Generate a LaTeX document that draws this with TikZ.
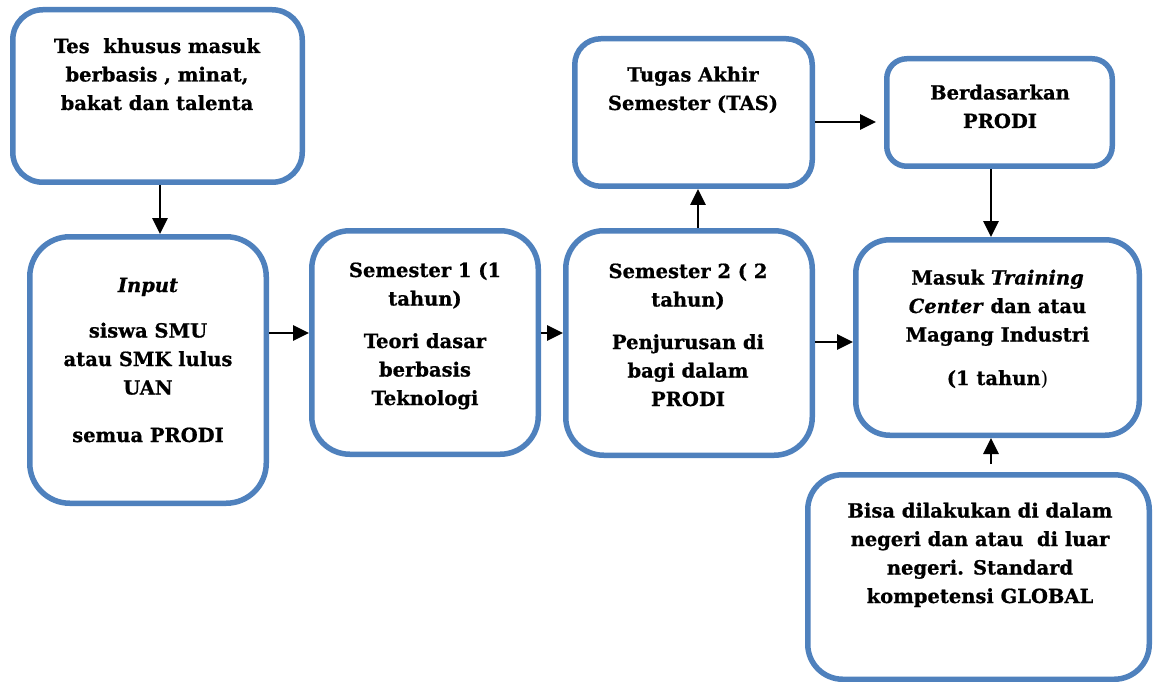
\documentclass[tikz,border=0pt]{standalone}
\usepackage{fontspec}
\setmainfont{DejaVu Serif}[BoldFeatures={FakeBold=0.8},BoldItalicFeatures={FakeBold=0.8}]
\usetikzlibrary{arrows.meta}
\definecolor{boxblue}{HTML}{4F81BD}
\begin{document}
\begin{tikzpicture}[x=1pt,y=-1pt,
  box/.style={draw=boxblue, line width=5.5pt, fill=white, rectangle, inner sep=0pt},
  txt/.style={align=center, inner sep=0pt, anchor=base,
    font=\bfseries\fontsize{19.5}{28.5}\selectfont},
  arr/.style={line width=2.8pt, -{Triangle[length=16pt,width=15pt]}}]
\useasboundingbox (0,0) rectangle (1160,682);

% boxes
\node[box, minimum width=289.5pt, minimum height=172.5pt, rounded corners=30pt] (tes) at (157.5,96) {};
\node[box, minimum width=236.5pt, minimum height=266.5pt, rounded corners=40pt] (input) at (148,370) {};
\node[box, minimum width=226.5pt, minimum height=223.5pt, rounded corners=38pt] (sem1) at (425,342.5) {};
\node[box, minimum width=246.5pt, minimum height=224.5pt, rounded corners=38pt] (sem2) at (689,343) {};
\node[box, minimum width=237.5pt, minimum height=147.5pt, rounded corners=26pt] (tugas) at (693.5,112.5) {};
\node[box, minimum width=225.5pt, minimum height=107.5pt, rounded corners=20pt] (berd) at (999.5,112.5) {};
\node[box, minimum width=283.5pt, minimum height=195.5pt, rounded corners=34pt] (masuk) at (997.5,337.5) {};
\node[box, minimum width=341.5pt, minimum height=204.5pt, rounded corners=35pt] (bisa) at (978.5,577) {};

% texts (anchored at the baseline of their last line)
\node[txt] (tes-t) at (157,110) {Tes~ khusus masuk\\berbasis , minat,\\bakat dan talenta};
\node[txt] (input-t) at (148,442) {\textit{Input}\\[17pt]siswa SMU\\atau SMK lulus\\UAN\\[19pt]semua PRODI};
\node[txt] (sem1-t) at (425,405) {Semester 1 (1\\tahun)\\[14pt]Teori dasar\\berbasis\\Teknologi};
\node[txt] (sem2-t) at (688,406) {Semester 2 ( 2\\tahun)\\[14pt]Penjurusan di\\bagi dalam\\PRODI};
\node[txt] (tugas-t) at (693,110) {Tugas Akhir\\Semester (TAS)};
\node[txt] (berd-t) at (1000,128) {Berdasarkan\\PRODI};
\node[txt] (masuk-t) at (997.5,385) {Masuk \textit{Training}\\\textit{Center} dan atau\\Magang Industri\\[15pt](1 tahun{\mdseries )}};
\node[txt] (bisa-t) at (980,603) {Bisa dilakukan di dalam\\negeri dan atau~ di luar\\negeri. Standard\\kompetensi GLOBAL};

% connector guides
\coordinate (xa) at (160,0);
\coordinate (xb) at (698,0);
\coordinate (xc) at (991,0);
\coordinate (ya) at (0,333);
\coordinate (yb) at (0,122);
\coordinate (yc) at (0,342);

% connectors
\draw[arr] (xa |- tes.south) -- (xa |- input.north);
\draw[arr] (input.east |- ya) -- (sem1.west |- ya);
\draw[arr] (sem1.east |- ya) -- (sem2.west |- ya);
\draw[arr] (xb |- sem2.north) -- (xb |- tugas.south);
\draw[arr, shorten >=8pt] (tugas.east |- yb) -- (berd.west |- yb);
\draw[arr] (xc |- berd.south) -- (xc |- masuk.north);
\draw[arr] (sem2.east |- yc) -- (masuk.west |- yc);
\draw[arr, shorten <=8pt] (xc |- bisa.north) -- (xc |- masuk.south);
\end{tikzpicture}
\end{document}
